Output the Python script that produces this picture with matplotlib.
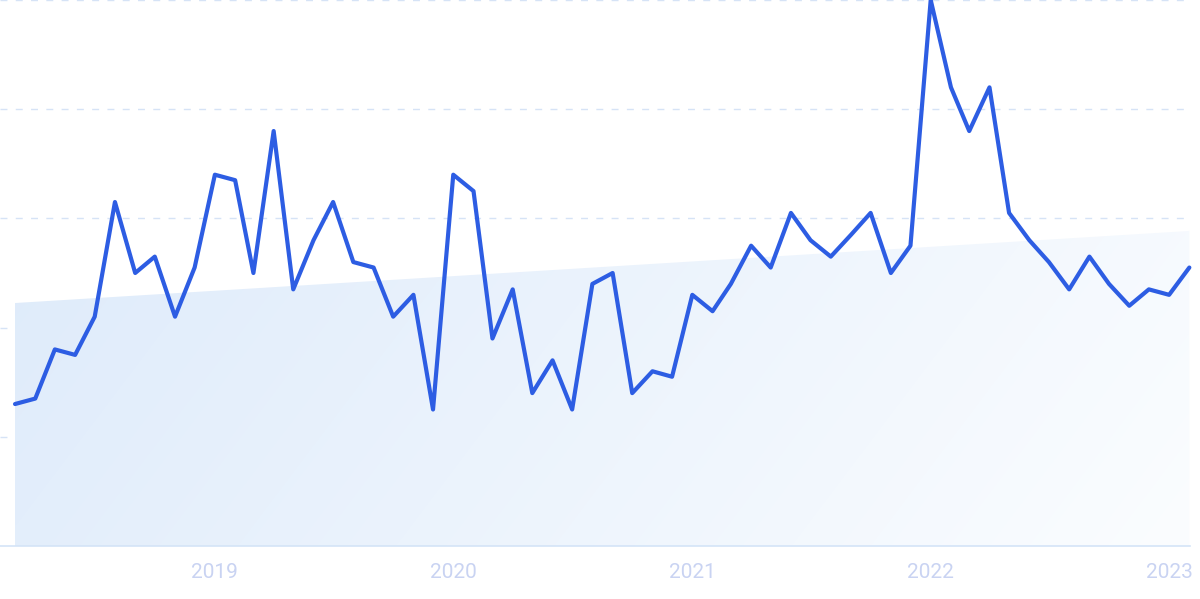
import numpy as np
import pandas as pd
import matplotlib
matplotlib.use("Agg")
import matplotlib.pyplot as plt
import matplotlib.dates as mdates
from matplotlib.patches import Polygon

# monthly interest index, Mar 2018 .. Feb 2023
start_month = "2018-03-01"
values = [26, 27, 36, 35, 42, 63, 50, 53, 42, 51,
          68, 67, 50, 76, 47, 56, 63, 52, 51, 42, 46, 25,
          68, 65, 38, 47, 28, 34, 25, 48, 50, 28, 32, 31,
          46, 43, 48, 55, 51, 61, 56, 53, 57, 61, 50, 55,
          100, 84, 76, 84, 61, 56, 52, 47, 53, 48, 44, 47,
          46, 51]
# trend band (start / end value)
trend_start = 44.5
trend_end = 57.7
year_ticks = ["2019", "2020", "2021", "2022", "2023"]

line_color = "#2d5de3"
grid_color = "#d6e3f6"
label_color = "#c9d3f2"

plt.rcParams["font.family"] = ["Roboto", "DejaVu Sans"]

dates = pd.date_range(start_month, periods=len(values), freq="MS")
xnum = mdates.date2num(dates)

fig = plt.figure(figsize=(12, 5.99), dpi=100)
ax = fig.add_axes([0.0, 0.0885, 1190 / 1200, 0.9115])

x0 = xnum[0] - 23
x1 = xnum[-1] + 1
ax.set_xlim(x0, x1)
ax.set_ylim(0, 100)

# gradient trend area
grad_w, grad_h = 400, 200
gx = np.linspace(0, 1, grad_w)[None, :]
gy = np.linspace(1, 0, grad_h)[:, None]
t = np.clip((gx * 1.0 + (1 - gy) * 0.35) / 1.35, 0, 1)
c0 = np.array([219, 233, 250]) / 255
c1 = np.array([251, 253, 255]) / 255
img = c0[None, None, :] * (1 - t[..., None]) + c1[None, None, :] * t[..., None]
im = ax.imshow(img, extent=[xnum[0], xnum[-1], 0, 100], aspect="auto",
               origin="upper", zorder=1, interpolation="bilinear")
poly = Polygon([[xnum[0], 0], [xnum[0], trend_start], [xnum[-1], trend_end],
                [xnum[-1], 0]], closed=True, transform=ax.transData,
               facecolor="none", edgecolor="none")
ax.add_patch(poly)
im.set_clip_path(poly)

# grid
for gv in [20, 40, 60, 80, 100]:
    ax.axhline(gv, color=grid_color, lw=1.0, ls=(0, (5, 6)), zorder=0.5)

ax.plot(xnum, values, color=line_color, lw=3.0, solid_joinstyle="round",
        solid_capstyle="round", zorder=3, clip_on=False)

ax.set_xlim(x0, x1)
ax.set_ylim(0, 100)

for s in ["top", "right", "left"]:
    ax.spines[s].set_visible(False)
ax.spines["bottom"].set_color("#d4e4f7")
ax.spines["bottom"].set_linewidth(1.2)

tick_pos = [mdates.date2num(pd.Timestamp(y + "-01-01")) for y in year_ticks]
ax.set_xticks(tick_pos)
ax.set_xticklabels(year_ticks)
ax.tick_params(axis="x", length=0, pad=12, labelsize=15, labelcolor=label_color)
ax.set_yticks([])

fig.savefig("out.png", dpi=100, facecolor="white")
